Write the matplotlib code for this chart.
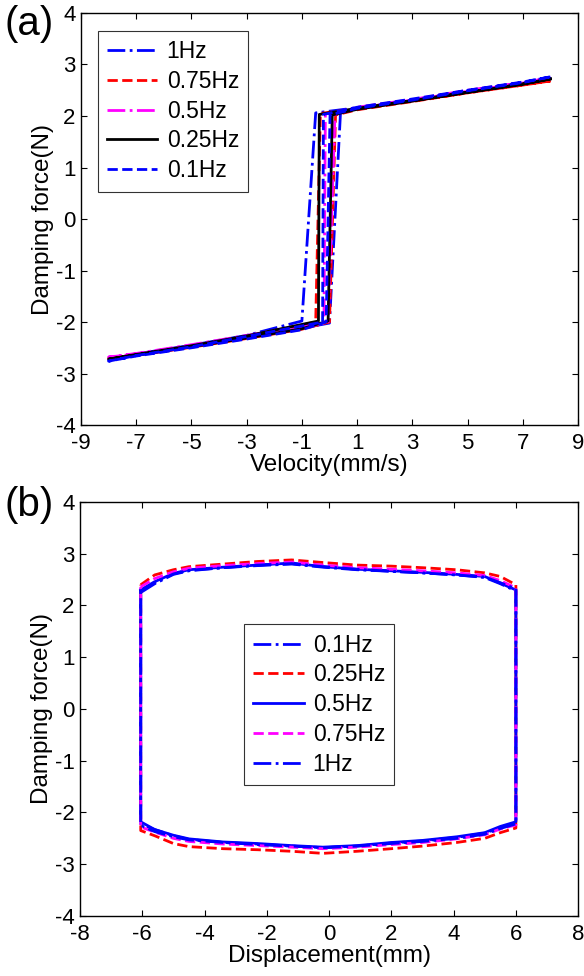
import matplotlib
matplotlib.use("Agg")
import matplotlib.pyplot as plt

plt.rcParams['font.family'] = ['Liberation Sans', 'DejaVu Sans']
plt.rcParams['axes.unicode_minus'] = False

# ---- panel (a): damping force vs velocity ----
vel_1hz = [8, 7, 5, 3, 1, -0.5, -1.0, -3, -5, -7, -8, -7, -5, -3, -1, 0.0, 0.4, 1, 3, 5, 7, 8]
f_1hz = [2.72, 2.64, 2.48, 2.31, 2.16, 2.06, -1.98, -2.26, -2.45, -2.62, -2.74,
         -2.64, -2.47, -2.30, -2.12, -2.02, 2.08, 2.14, 2.30, 2.47, 2.63, 2.72]

vel_075hz = [8, 7, 5, 3, 1, -0.33, -0.5, -3, -5, -7, -8, -7, -5, -3, -1, 0.0, 0.22, 1, 3, 5, 7, 8]
f_075hz = [2.68, 2.60, 2.45, 2.29, 2.14, 2.05, -2.00, -2.28, -2.47, -2.64, -2.70,
           -2.65, -2.49, -2.32, -2.14, -2.00, 2.02, 2.12, 2.28, 2.45, 2.60, 2.68]

vel_05hz = [8, 7, 5, 3, 1, -0.15, -0.2, -3, -5, -7, -8, -7, -5, -3, -1, -0.05, 0.2, 1, 3, 5, 7, 8]
f_05hz = [2.74, 2.65, 2.50, 2.32, 2.17, 2.03, -2.00, -2.26, -2.44, -2.61, -2.68,
          -2.62, -2.46, -2.29, -2.12, -2.00, 2.03, 2.15, 2.31, 2.48, 2.64, 2.74]

vel_025hz = [8, 7, 5, 3, 1, -0.37, -0.4, -3, -5, -7, -8, -7, -5, -3, -1, -0.05, 0.1, 1, 3, 5, 7, 8]
f_025hz = [2.72, 2.62, 2.46, 2.30, 2.15, 2.03, -1.98, -2.27, -2.46, -2.63, -2.72,
           -2.64, -2.48, -2.31, -2.13, -1.98, 2.02, 2.13, 2.29, 2.46, 2.62, 2.72]

vel_01hz = [8, 7, 5, 3, 1, -0.22, -0.25, -3, -5, -7, -8, -7, -5, -3, -1, -0.12, 0.02, 1, 3, 5, 7, 8]
f_01hz = [2.76, 2.66, 2.50, 2.33, 2.17, 2.03, -2.00, -2.28, -2.48, -2.65, -2.76,
          -2.66, -2.50, -2.33, -2.15, -2.00, 2.02, 2.15, 2.31, 2.49, 2.65, 2.76]

# ---- panel (b): damping force vs displacement ----
disp = [-6.05, -5.6, -5.0, -4.5, -3.4, -2.3, -1.2, -0.2, 0.9, 2.0, 3.0, 4.1, 5.0, 5.5, 6.0]

top_01hz = [2.25, 2.42, 2.60, 2.67, 2.73, 2.77, 2.80, 2.74, 2.69, 2.66, 2.63, 2.59, 2.54, 2.42, 2.28]
bot_01hz = [-2.22, -2.33, -2.45, -2.52, -2.58, -2.61, -2.65, -2.68, -2.65, -2.59, -2.55, -2.48, -2.40, -2.29, -2.20]

top_025hz = [2.40, 2.59, 2.69, 2.75, 2.80, 2.85, 2.88, 2.83, 2.78, 2.76, 2.73, 2.69, 2.63, 2.56, 2.40]
bot_025hz = [-2.35, -2.45, -2.60, -2.66, -2.70, -2.72, -2.75, -2.79, -2.75, -2.70, -2.65, -2.58, -2.50, -2.39, -2.30]

top_05hz = [2.30, 2.46, 2.62, 2.69, 2.74, 2.78, 2.82, 2.75, 2.70, 2.67, 2.64, 2.60, 2.56, 2.43, 2.30]
bot_05hz = [-2.18, -2.33, -2.44, -2.51, -2.57, -2.60, -2.64, -2.67, -2.64, -2.58, -2.54, -2.47, -2.39, -2.27, -2.18]

top_075hz = [2.36, 2.52, 2.65, 2.72, 2.77, 2.81, 2.84, 2.78, 2.73, 2.70, 2.67, 2.63, 2.58, 2.48, 2.34]
bot_075hz = [-2.28, -2.38, -2.50, -2.56, -2.61, -2.64, -2.67, -2.70, -2.67, -2.62, -2.58, -2.51, -2.43, -2.32, -2.24]

top_1hz = [2.28, 2.44, 2.61, 2.68, 2.73, 2.78, 2.81, 2.75, 2.70, 2.66, 2.63, 2.59, 2.55, 2.44, 2.32]
bot_1hz = [-2.25, -2.37, -2.47, -2.53, -2.58, -2.62, -2.65, -2.68, -2.65, -2.60, -2.56, -2.50, -2.42, -2.31, -2.22]


def loop(x, top, bot):
    # close the loop: along the top, back along the bottom
    xs = list(x) + list(x[::-1]) + [x[0]]
    ys = list(top) + list(bot[::-1]) + [top[0]]
    return xs, ys


def style_axes(ax):
    ax.tick_params(direction='in', top=True, right=True, length=4,
                   width=0.8, labelsize=16)
    ax.tick_params(axis='x', pad=6)
    ax.tick_params(axis='y', pad=4)
    for s in ax.spines.values():
        s.set_linewidth(1.0)


fig = plt.figure(figsize=(5.84, 9.76), dpi=100)
lw = 2.0

ax1 = fig.add_axes([0.1387, 0.5645, 0.851, 0.4222])
ax1.plot(vel_1hz, f_1hz, '-.', color='blue', lw=lw, label='1Hz')
ax1.plot(vel_075hz, f_075hz, '--', color='red', lw=lw, label='0.75Hz')
ax1.plot(vel_05hz, f_05hz, '-.', color='magenta', lw=lw, label='0.5Hz')
ax1.plot(vel_025hz, f_025hz, '-', color='black', lw=lw, label='0.25Hz')
ax1.plot(vel_01hz, f_01hz, '--', color='blue', lw=lw, label='0.1Hz')
ax1.set_xlim(-9, 9)
ax1.set_ylim(-4, 4)
ax1.set_xticks(range(-9, 10, 2))
ax1.set_yticks(range(-4, 5))
ax1.set_xlabel('Velocity(mm/s)', fontsize=17.5, labelpad=0)
ax1.set_ylabel('Damping force(N)', fontsize=17.5, labelpad=1)
style_axes(ax1)
leg1 = ax1.legend(loc='upper left', bbox_to_anchor=(0.034, 0.957), fontsize=16.5,
                  frameon=True, fancybox=False, edgecolor='black',
                  handlelength=2.2, handletextpad=0.4, labelspacing=0.3,
                  borderpad=0.4, borderaxespad=0)
leg1.get_frame().set_linewidth(0.8)

ax2 = fig.add_axes([0.137, 0.0615, 0.853, 0.4242])
for top, bot, ls, col, lab in [
        (top_01hz, bot_01hz, '-.', 'blue', '0.1Hz'),
        (top_025hz, bot_025hz, '--', 'red', '0.25Hz'),
        (top_05hz, bot_05hz, '-', 'blue', '0.5Hz'),
        (top_075hz, bot_075hz, '--', 'magenta', '0.75Hz'),
        (top_1hz, bot_1hz, '-.', 'blue', '1Hz')]:
    xs, ys = loop(disp, top, bot)
    ax2.plot(xs, ys, ls, color=col, lw=lw, label=lab)
ax2.set_xlim(-8, 8)
ax2.set_ylim(-4, 4)
ax2.set_xticks(range(-8, 9, 2))
ax2.set_yticks(range(-4, 5))
ax2.set_xlabel('Displacement(mm)', fontsize=17.5, labelpad=0)
ax2.set_ylabel('Damping force(N)', fontsize=17.5, labelpad=1)
style_axes(ax2)
leg2 = ax2.legend(loc='center', bbox_to_anchor=(0.48, 0.51), fontsize=16.5,
                  frameon=True, fancybox=False, edgecolor='black',
                  handlelength=2.2, handletextpad=0.4, labelspacing=0.3,
                  borderpad=0.4)
leg2.get_frame().set_linewidth(0.8)

fig.text(0.008, 0.995, '(a)', fontsize=29, va='top', ha='left')
fig.text(0.008, 0.502, '(b)', fontsize=29, va='top', ha='left')

fig.savefig('out.png', dpi=100)
